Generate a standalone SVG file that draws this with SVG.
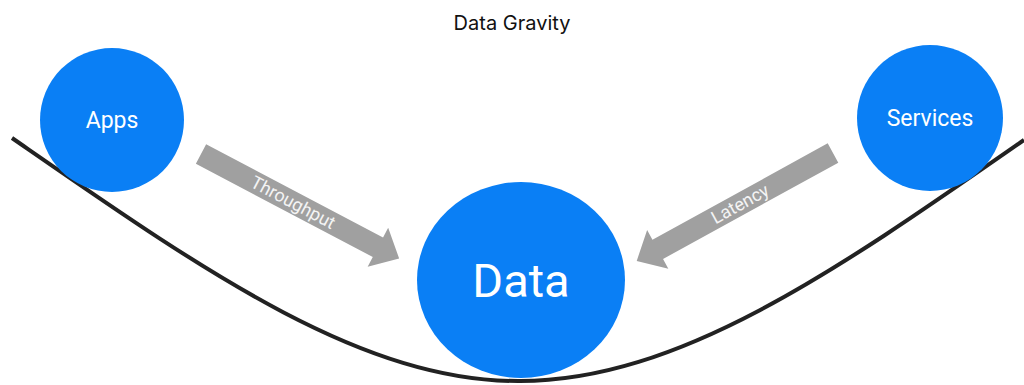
<svg xmlns="http://www.w3.org/2000/svg" width="1024" height="385" viewBox="0 0 1024 385">
<style>
.node{fill:#0a7ff5}
.nl{fill:#ffffff;font-family:Roboto,"Liberation Sans",sans-serif;text-anchor:middle}
.arrow{fill:#a0a0a0}
.al{fill:#f4f4f4;font-family:Roboto,"Liberation Sans",sans-serif;font-size:18px;text-anchor:middle}
.title{fill:#111;font-family:Inter,"Liberation Sans",sans-serif;font-size:20px;text-anchor:middle}
</style>
<defs>
<path id="arr" d="M0,-11 L200,-11 L200,-22 L224,0 L200,22 L200,11 L0,11 Z"/>
</defs>
<rect width="1024" height="385" fill="#fff"/>
<text class="title" x="512" y="30">Data Gravity</text>
<g id="connectors">
<path d="M12,138 C200,268 360,382 520,381 C680,381 840,268 1024,140" fill="none" stroke="#222" stroke-width="4"/>
<g id="throughput" transform="translate(201,154) rotate(27.8)">
<use href="#arr" class="arrow"/>
<text class="al" x="104" y="6">Throughput</text>
</g>
<g id="latency" transform="translate(833,153) rotate(151.2)">
<use href="#arr" class="arrow"/>
<text class="al" x="106" y="6" transform="rotate(180 106 0)">Latency</text>
</g>
</g>
<g id="apps">
<circle class="node" cx="112" cy="120" r="72"/>
<text class="nl" x="112" y="128" font-size="23">Apps</text>
</g>
<g id="services">
<circle class="node" cx="930" cy="118" r="73"/>
<text class="nl" x="930" y="126" font-size="23">Services</text>
</g>
<g id="data">
<ellipse class="node" cx="521" cy="280" rx="104" ry="98"/>
<text class="nl" x="521" y="297" font-size="47">Data</text>
</g>
</svg>
